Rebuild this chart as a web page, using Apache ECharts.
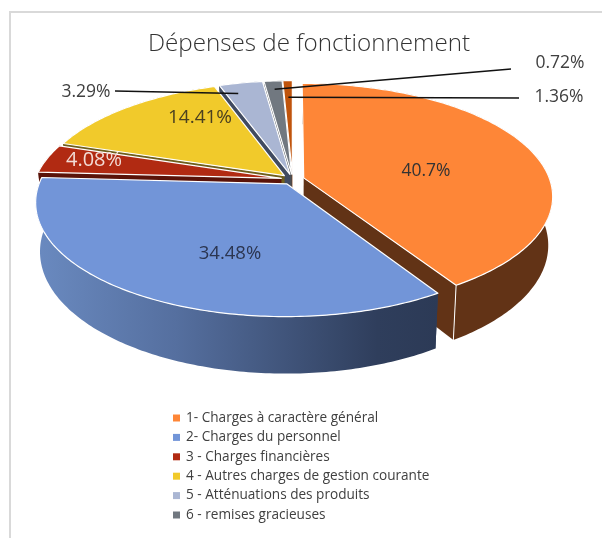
<!DOCTYPE html>
<html><head><meta charset="utf-8">
<style>html,body{margin:0;padding:0;background:#fff}#c{width:602px;height:538px}</style>
<script src="https://cdn.jsdelivr.net/npm/echarts@6/dist/echarts.min.js"></script>
</head><body><div id="c"></div>
<script>
const categories = ['1- Charges à caractère général','2- Charges du personnel','3 - Charges financières','4 - Autres charges de gestion courante','5 - Atténuations des produits','6 - remises gracieuses','7'];
const values = [40.7,34.48,4.08,14.41,3.29,1.36,0.72];
const legendItems = categories.slice(0,6);
const chartTitle = 'Dépenses de fonctionnement';

// styling & layout
const topColors = ['#fe8637','#7295d8','#b12a12','#f1ca2b','#aab6d3','#717880','#c0540c'];
const wallColors = ['#623316',null,'#5a1309','#6f5f1c','#414b60','#4a4f55','#7a3508'];
const labelColors = ['#333','#2b3550','#f3dcd6','#4a4020','#404040','#404040','#404040'];
const labelSizes = [17.5,18.5,20,19,17.5,17.5,17.5];
const labelAt = [[426,171],[230,254],[94,160],[200,118],[86,92],[559,97],[560,63]];
const leaderFrom = {4:[115,91],5:[519,98],6:[511,69]};
const leaderTargetSlice = {4:4,5:6,6:5};
const leaderR = {4:0.88,5:0.8,6:0.9};
const leaderFrac = {4:0.3,5:0.5,6:0.5};
const paintOrder = [6,5,4,3,2,0,1];
const G = {cx:292.6,cy:179.3,A:110,B:246,p:0.16,e:0.047,h:47.5,shrink:0.983};
const FONT = '"Open Sans"';

const total = values.reduce((a,b)=>a+b,0);
const starts = []; let acc=0;
values.forEach(v=>{starts.push(acc/total*Math.PI*2); acc+=v;});
const ends = values.map((v,i)=>starts[i]+v/total*Math.PI*2);

function pt(i,th,r,bottom){
  const mid=(starts[i]+ends[i])/2;
  const u=G.e*Math.sin(mid)+r*Math.sin(th);
  const v=-(G.e*Math.cos(mid)+r*Math.cos(th));
  const s=1/(1-G.p*v);
  let x=G.cx+G.B*u*s, y=G.cy+G.A*v*s;
  if(bottom){x=G.cx+(x-G.cx)*G.shrink; y+=G.h*s;}
  return [x,y];
}
function arc(i,bottom){
  const n=Math.max(4,Math.ceil((ends[i]-starts[i])/0.015)); const out=[];
  for(let k=0;k<=n;k++){out.push(pt(i,starts[i]+(ends[i]-starts[i])*k/n,1,bottom));}
  return out;
}
function poly(points,fill,stroke,lw){
  return {type:'polygon',shape:{points},style:{fill,stroke:stroke||'none',lineWidth:lw||0,lineJoin:'round'},silent:true};
}
function renderSlice(i){
  const top=arc(i,false), bot=arc(i,true);
  const apexT=pt(i,0,0,false), apexB=pt(i,0,0,true);
  const wall = i===1 ? new echarts.graphic.LinearGradient(0,0,1,0,[
      {offset:0,color:'#6a8ac0'},{offset:0.35,color:'#556f9f'},{offset:0.85,color:'#2f3e5c'},{offset:1,color:'#2c3a56'}]) : wallColors[i];
  const flat = i===1 ? '#2f3e5c' : wallColors[i];
  const children=[];
  if(i!==0) children.push(poly([apexT,top[0],bot[0],apexB],flat));
  children.push(poly([apexT,top[top.length-1],bot[bot.length-1],apexB],flat));
  children.push(poly(top.concat(bot.slice().reverse()),wall));
  if(i===0){
    children.push({type:'polyline',shape:{points:[top[top.length-1],bot[bot.length-1]]},style:{fill:'none',stroke:'#fff',lineWidth:1},silent:true});
  }
  children.push(poly([apexT].concat(top),topColors[i],'#ffffff',1.2));
  return {type:'group',children};
}
function renderLabels(params){
  const i=params.dataIndex; const children=[];
  if(leaderFrom[i]){
    const t=leaderTargetSlice[i];
    const th=starts[t]+(ends[t]-starts[t])*leaderFrac[i];
    children.push({type:'polyline',shape:{points:[leaderFrom[i],pt(t,th,leaderR[i],false)]},
      style:{fill:'none',stroke:'#111',lineWidth:1.5},silent:true});
  }
  children.push({type:'text',x:labelAt[i][0],y:labelAt[i][1],silent:true,
    style:{text:values[i]+'%',fill:labelColors[i],font:labelSizes[i]+'px '+FONT,align:'center',verticalAlign:'middle'}});
  return {type:'group',children};
}
const series = paintOrder.map(i=>({
  type:'custom',name:categories[i],coordinateSystem:'none',animation:false,silent:true,
  itemStyle:{color:topColors[i]},
  data:[values[i]],
  renderItem:()=>renderSlice(i)
}));
series.push({type:'custom',name:'étiquettes',coordinateSystem:'none',animation:false,silent:true,
  data:values.map(v=>v),renderItem:renderLabels,z:5});

const chart=echarts.init(document.getElementById('c'),null,{renderer:'canvas'});
chart.setOption({
  animation:false,
  backgroundColor:'#fff',
  title:{text:chartTitle,left:304,top:27,textAlign:'center',textStyle:{fontFamily:FONT,fontSize:24.2,fontWeight:300,color:'#333333'}},
  legend:{data:legendItems.map(n=>({name:n,itemStyle:{color:topColors[categories.indexOf(n)]}})),orient:'vertical',left:173,top:411,itemWidth:7,itemHeight:7,itemGap:5.4,icon:'rect',
    textStyle:{fontFamily:FONT,fontSize:13.6,color:'#404040',padding:[0,0,0,1]},selectedMode:false,padding:0},
  graphic:[
    {type:'polyline',silent:true,shape:{points:[[10,538],[10,12],[602,12]]},style:{fill:'none',stroke:'#d9d9d9',lineWidth:2}}
  ],
  series
});
</script></body></html>
